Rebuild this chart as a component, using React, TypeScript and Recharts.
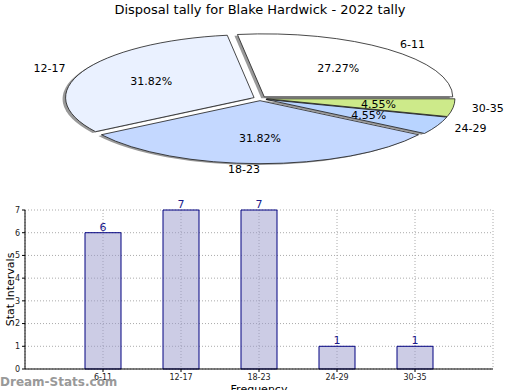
import { PieChart, Pie, Cell, BarChart, Bar, XAxis, YAxis, CartesianGrid, LabelList } from 'recharts';

const categories = ['6-11', '12-17', '18-23', '24-29', '30-35'];
const tally = [6, 7, 7, 1, 1];
const sliceColors = ['#ffffff', '#eaf1ff', '#c4d8ff', '#b8d4ff', '#cdea8a'];
const yTicks = [0, 1, 2, 3, 4, 5, 6, 7];

const rows = categories.map((name, i) => ({ name, value: tally[i] }));

// the pie is drawn squashed, like a tilted disc
const RX = 188.5;
const RY = 63;
const EXPLODE = 6.5;
const RAD = Math.PI / 180;

function explodeOffset(mid: number) {
  return [Math.cos(mid * RAD) * EXPLODE, -Math.sin(mid * RAD) * EXPLODE * (RY / RX)];
}

function wedgePath(cx: number, cy: number, start: number, end: number) {
  const x1 = cx + RX * Math.cos(start * RAD);
  const y1 = cy - RY * Math.sin(start * RAD);
  const x2 = cx + RX * Math.cos(end * RAD);
  const y2 = cy - RY * Math.sin(end * RAD);
  const large = Math.abs(end - start) > 180 ? 1 : 0;
  const sweep = end > start ? 0 : 1;
  return `M${cx},${cy} L${x1},${y1} A${RX},${RY} 0 ${large} ${sweep} ${x2},${y2} Z`;
}

function makeWedge(shadow: boolean) {
  return (props: any) => {
    const { cx, cy, startAngle, endAngle, fill } = props;
    const [dx, dy] = explodeOffset((startAngle + endAngle) / 2);
    const ox = shadow ? -3 : 0;
    const oy = shadow ? 1.3 : 0;
    return (
      <path
        d={wedgePath(cx + dx + ox, cy + dy + oy, startAngle, endAngle)}
        fill={shadow ? '#999999' : fill}
        stroke={shadow ? 'none' : '#1a1a1a'}
        strokeWidth={0.8}
        strokeLinejoin="round"
      />
    );
  };
}

const shadowWedge = makeWedge(true);
const faceWedge = makeWedge(false);

function pieLabel(props: any) {
  const { cx, cy, midAngle, percent, name } = props;
  const [dx, dy] = explodeOffset(midAngle);
  const c = Math.cos(midAngle * RAD);
  const s = Math.sin(midAngle * RAD);
  return (
    <g>
      <text x={cx + dx + 0.6 * RX * c} y={cy + dy - 0.6 * RY * s} textAnchor="middle" dominantBaseline="central" fontSize={11} fill="#000">
        {(percent * 100).toFixed(2)}%
      </text>
      <text x={cx + dx + 1.1 * RX * c} y={cy + dy - 1.1 * RY * s} textAnchor={c > 0.001 ? 'start' : 'end'} dominantBaseline="central" fontSize={11} fill="#000">
        {name}
      </text>
    </g>
  );
}

export default function App() {
  return (
    <div style={{ position: 'absolute', left: 0, top: 0, width: 520, height: 390, overflow: 'hidden', background: '#fff', fontFamily: 'DejaVu Sans' }}>
      <div style={{ position: 'absolute', left: 0, top: 2, width: 520, textAlign: 'center', fontSize: 13, color: '#000' }}>
        Disposal tally for Blake Hardwick - 2022 tally
      </div>

      <div style={{ position: 'absolute', left: 0, top: 0 }}>
        <PieChart width={520} height={195} margin={{ top: 0, right: 0, bottom: 0, left: 0 }}>
          <Pie data={rows} dataKey="value" nameKey="name" cx={260} cy={98.5} outerRadius={RX} startAngle={0} endAngle={360} isAnimationActive={false} shape={shadowWedge} label={false} labelLine={false}>
            {rows.map((r, i) => <Cell key={r.name} fill={sliceColors[i]} />)}
          </Pie>
          <Pie data={rows} dataKey="value" nameKey="name" cx={260} cy={98.5} outerRadius={RX} startAngle={0} endAngle={360} isAnimationActive={false} shape={faceWedge} label={pieLabel} labelLine={false}>
            {rows.map((r, i) => <Cell key={r.name} fill={sliceColors[i]} />)}
          </Pie>
        </PieChart>
      </div>

      <div style={{ position: 'absolute', left: 0, top: 195 }}>
        <BarChart width={520} height={195} data={rows} margin={{ top: 15, right: 27, bottom: 5, left: 5 }}>
          <CartesianGrid stroke="#aaaaaa" strokeDasharray="1 2" />
          <XAxis
            dataKey="name"
            interval={0}
            padding={{ left: 39, right: 39 }}
            height={16}
            tickSize={3}
            axisLine={{ stroke: '#000' }}
            tickLine={{ stroke: '#000' }}
            tick={{ fontSize: 8, fill: '#222' }}
            label={{
              content: ({ viewBox }: any) => (
                <text x={viewBox.x + viewBox.width / 2} y={198} textAnchor="middle" fontSize={11} fill="#000">Frequency</text>
              ),
            }}
          />
          <XAxis xAxisId="top" orientation="top" dataKey="name" height={0} tick={false} tickLine={false} axisLine={{ stroke: '#000' }} />
          <YAxis
            domain={[0, 7]}
            ticks={yTicks}
            interval={0}
            width={20}
            tickSize={3}
            axisLine={{ stroke: '#000' }}
            tickLine={{ stroke: '#000' }}
            tick={{ fontSize: 8, fill: '#222' }}
            label={{
              content: ({ viewBox }: any) => {
                const my = viewBox.y + viewBox.height / 2;
                return (
                  <text x={10} y={my} transform={`rotate(-90, 10, ${my})`} textAnchor="middle" dominantBaseline="central" fontSize={11} fill="#000">Stat Intervals</text>
                );
              },
            }}
          />
          <YAxis yAxisId="right" orientation="right" domain={[0, 7]} width={0} tick={false} tickLine={false} axisLine={{ stroke: '#000' }} />
          <Bar dataKey="value" fill="#9999cc" fillOpacity={0.5} stroke="#000080" strokeWidth={1} barSize={36} isAnimationActive={false}>
            <LabelList dataKey="value" position="top" offset={2} fill="#1c1c8c" fontSize={11} />
          </Bar>
        </BarChart>
      </div>

      <div style={{ position: 'absolute', left: 0, top: 375, fontSize: 12, fontWeight: 'bold', color: '#999999' }}>
        Dream-Stats.com
      </div>
    </div>
  );
}
